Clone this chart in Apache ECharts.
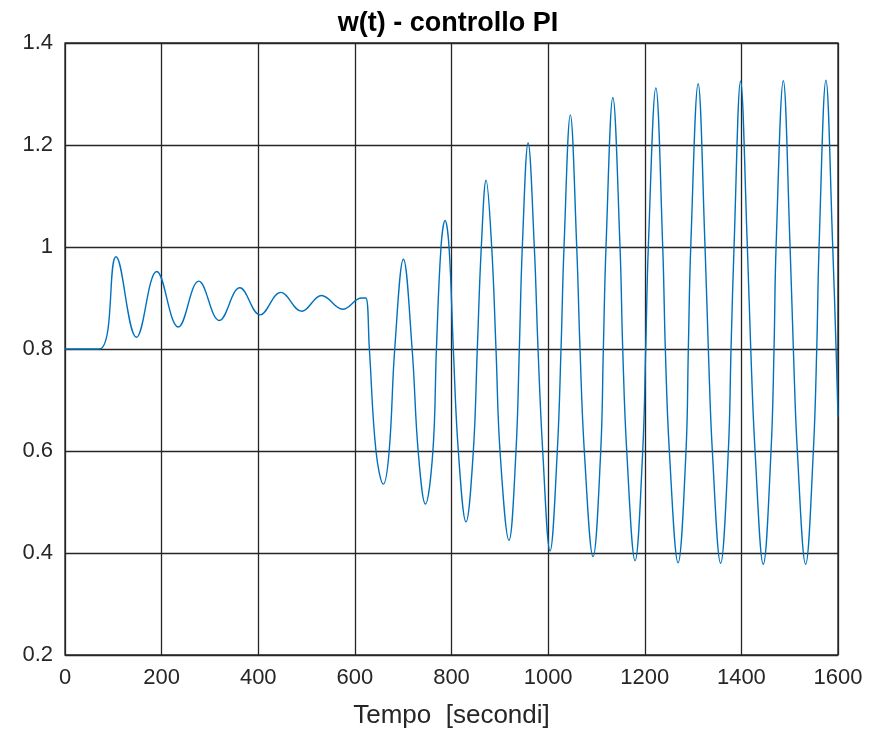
<!DOCTYPE html>
<html>
<head>
<meta charset="utf-8">
<script src="https://cdn.jsdelivr.net/npm/echarts@6/dist/echarts.min.js"></script>
<style>
html,body{margin:0;padding:0;background:#fff;}
#chart{width:869px;height:730px;}
</style>
</head>
<body>
<div id="chart"></div>
<script>
// Time samples (s)
const tempo = [0, 71, 105.6, 148, 190, 234.6, 277, 319.5, 362, 403.7, 446.5, 490, 531, 575, 614, 622.6,
  630, 643.7, 659, 671, 682.5, 700.5, 718.5, 731, 746, 761.5, 768.8, 778.3, 786.7, 794.9,
  803.8, 814.1, 830, 845.2, 853.4, 861.7, 871.6, 883.2, 892.1, 900.4, 919, 933.5, 940.4, 946.6, 958.6, 971.4,
  979.1, 988.8, 1004, 1019, 1026.7, 1032.9, 1046, 1059.2, 1066, 1074.9, 1093, 1108.9, 1114.3, 1119.8, 1134, 1148.8,
  1154.4, 1162.7, 1180, 1195.8, 1202, 1207.4, 1223, 1237.2, 1242.6, 1250.9, 1269, 1285.4, 1290.2, 1295.2, 1310.5, 1324.8,
  1331.6, 1339.9, 1357, 1373, 1378.6, 1384.8, 1398.3, 1412.4, 1419.4, 1428.3, 1445.3, 1461.4, 1467.6, 1471.8, 1486.8, 1500.8,
  1507.6, 1515.8, 1533, 1549, 1556, 1560.8, 1575, 1589.1, 1596, 1600];
// w(t) values
const w = [0.8, 0.8, 0.981, 0.823, 0.952, 0.843, 0.933, 0.856, 0.92, 0.867, 0.911, 0.874, 0.905, 0.878, 0.90, 0.90,
  0.8, 0.6, 0.535, 0.6, 0.8, 0.976, 0.8, 0.6, 0.496, 0.6, 0.8, 1.0, 1.052, 1.0,
  0.8, 0.6, 0.461, 0.6, 0.8, 1.0, 1.131, 1.0, 0.8, 0.6, 0.425, 0.6, 0.8, 1.0, 1.204, 1.0,
  0.8, 0.6, 0.404, 0.6, 0.8, 1.0, 1.259, 1.0, 0.8, 0.6, 0.393, 0.6, 0.8, 1.0, 1.293, 1.0,
  0.8, 0.6, 0.385, 0.6, 0.8, 1.0, 1.312, 1.0, 0.8, 0.6, 0.381, 0.6, 0.8, 1.0, 1.320, 1.0,
  0.8, 0.6, 0.380, 0.6, 0.8, 1.0, 1.325, 1.0, 0.8, 0.6, 0.378, 0.6, 0.8, 1.0, 1.326, 1.0,
  0.8, 0.6, 0.378, 0.6, 0.8, 1.0, 1.327, 1.0, 0.8, 0.667];

const titolo = 'w(t) - controllo PI';
const nomeAsseX = 'Tempo  [secondi]';

const data = tempo.map((t, i) => [t, w[i]]);
const font = '"Liberation Sans", Arial, Helvetica, sans-serif';

const chart = echarts.init(document.getElementById('chart'), null, {renderer: 'canvas'});
chart.setOption({
  animation: false,
  backgroundColor: '#ffffff',
  title: {
    text: titolo,
    left: 443, top: 5, textAlign: 'center',
    textStyle: {fontFamily: font, fontWeight: 'bold', fontSize: 27, color: '#000'}
  },
  grid: {
    left: 65, right: 31, top: 43, bottom: 75,
    outerBoundsMode: 'none',
    containLabel: false,
    show: true, borderColor: '#262626', borderWidth: 1.3, backgroundColor: '#fff'
  },
  xAxis: {
    type: 'value', min: 0, max: 1600, interval: 200,
    name: nomeAsseX, nameLocation: 'middle', nameGap: 48,
    nameTextStyle: {fontFamily: font, fontSize: 26, color: '#262626'},
    axisLine: {show: false},
    axisTick: {show: false},
    axisLabel: {fontFamily: font, fontSize: 22, color: '#262626', margin: 12,
      formatter: v => String(v)},
    splitLine: {show: true, lineStyle: {color: '#262626', width: 1.3}}
  },
  yAxis: {
    type: 'value', min: 0.2, max: 1.4, interval: 0.2,
    axisLine: {show: false},
    axisTick: {show: false},
    axisLabel: {fontFamily: font, fontSize: 22, color: '#262626', margin: 12,
      formatter: v => String(+v.toFixed(1))},
    splitLine: {show: true, lineStyle: {color: '#262626', width: 1.3}}
  },
  series: [{
    type: 'line',
    data: data,
    smooth: 0.4,
    showSymbol: false,
    symbol: 'none',
    lineStyle: {color: '#0072BD', width: 1.4},
    z: 3
  }]
});
</script>
</body>
</html>
